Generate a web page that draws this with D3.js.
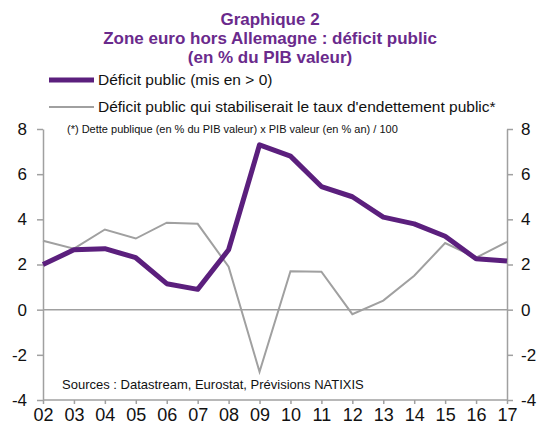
<!DOCTYPE html>
<html>
<head>
<meta charset="utf-8">
<script src="https://cdn.jsdelivr.net/npm/d3@7"></script>
<style>
  body { margin: 0; background: #fff; overflow: hidden; }
  svg { display: block; font-family: "Liberation Sans", Arial, sans-serif; }
</style>
</head>
<body>
<svg></svg>
<script>
const width = 538;
const height = 426;
const svg = d3.select("svg").attr("width", width).attr("height", height);

const years = ["02", "03", "04", "05", "06", "07", "08", "09", "10", "11", "12", "13", "14", "15", "16", "17"];
const deficit = [2.0, 2.65, 2.7, 2.3, 1.15, 0.9, 2.65, 7.3, 6.8, 5.45, 5.0, 4.1, 3.8, 3.25, 2.25, 2.15];
const stabilising = [3.05, 2.7, 3.55, 3.15, 3.85, 3.8, 1.9, -2.75, 1.7, 1.68, -0.2, 0.4, 1.5, 2.95, 2.3, 3.0];
const yTicks = [-4, -2, 0, 2, 4, 6, 8];

const purple = "#5b1f7d";
const grey = "#a0a0a0";

const x = d3.scalePoint().domain(years).range([43, 507]);
const y = d3.scaleLinear().domain([-4, 8]).range([400, 129]);

// title
const title = ["Graphique 2", "Zone euro hors Allemagne : déficit public", "(en % du PIB valeur)"];
svg.append("g").selectAll("text")
  .data(title)
  .join("text")
  .attr("x", 270)
  .attr("y", (d, i) => 25 + i * 19)
  .attr("text-anchor", "middle")
  .attr("font-size", 17)
  .attr("font-weight", "bold")
  .attr("fill", "#6a2a8c")
  .text(d => d);

// legend
const legend = [
  { label: "Déficit public (mis en > 0)", color: purple, w: 5 },
  { label: "Déficit public qui stabiliserait le taux d'endettement public*", color: grey, w: 2 }
];
const lg = svg.append("g").selectAll("g").data(legend).join("g")
  .attr("transform", (d, i) => `translate(0, ${80 + i * 27})`);
lg.append("line").attr("x1", 49).attr("x2", 94)
  .attr("stroke", d => d.color).attr("stroke-width", d => d.w);
lg.append("text").attr("x", 98).attr("y", 5).attr("font-size", 15.5)
  .attr("fill", "#111").text(d => d.label);

// zero line
svg.append("line")
  .attr("x1", x("02")).attr("x2", x("17"))
  .attr("y1", y(0)).attr("y2", y(0))
  .attr("stroke", grey).attr("stroke-width", 1.5);

// axes
const styleAxis = size => g => {
  g.select(".domain").attr("stroke", grey).attr("stroke-width", 1.5);
  g.selectAll(".tick line").attr("stroke", grey).attr("stroke-width", 1.5);
  g.selectAll(".tick text").attr("fill", "#111").attr("font-size", size)
    .attr("font-family", "Liberation Sans, Arial, sans-serif");
};
const plain = d => String(d);

svg.append("g").attr("transform", "translate(43,0)")
  .call(d3.axisLeft(y).tickValues(yTicks).tickFormat(plain).tickSize(6).tickSizeOuter(0).tickPadding(10))
  .call(styleAxis(17));

svg.append("g").attr("transform", "translate(507,0)")
  .call(d3.axisRight(y).tickValues(yTicks).tickFormat(plain).tickSize(6).tickSizeOuter(0).tickPadding(8))
  .call(styleAxis(17));

svg.append("g").attr("transform", "translate(0,400)")
  .call(d3.axisBottom(x).tickSize(4).tickSizeOuter(0).tickPadding(4))
  .call(styleAxis(18))
  .call(g => g.select(".domain").attr("d", `M${x("02")},0H${x("17")}`));

// lines
const line = data => d3.line().x((d, i) => x(years[i])).y(d => y(d))(data);

svg.append("path").attr("d", line(stabilising))
  .attr("fill", "none").attr("stroke", grey).attr("stroke-width", 2);
svg.append("path").attr("d", line(deficit))
  .attr("fill", "none").attr("stroke", purple).attr("stroke-width", 5)
  .attr("stroke-linejoin", "round");

// notes
svg.append("text").attr("x", 67).attr("y", 133).attr("font-size", 11)
  .attr("fill", "#111").text("(*) Dette publique (en % du PIB valeur) x PIB valeur (en % an) / 100");
svg.append("text").attr("x", 62).attr("y", 389).attr("font-size", 13)
  .attr("fill", "#111").text("Sources : Datastream, Eurostat, Prévisions NATIXIS");
</script>
</body>
</html>
